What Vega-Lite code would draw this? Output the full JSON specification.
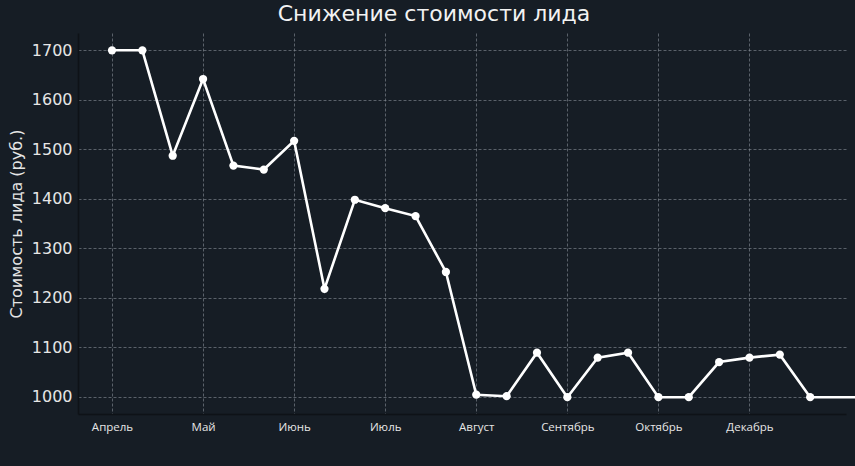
{
  "$schema": "https://vega.github.io/schema/vega-lite/v6.json",
  "description": "Снижение стоимости лида",
  "autosize": {"type": "none"},
  "padding": {"left": 78, "top": 33, "right": 9, "bottom": 52},
  "width": 768,
  "height": 381,
  "background": "#161d25",
  "title": {
    "text": "Снижение стоимости лида",
    "font": "DejaVu Sans",
    "fontSize": 22,
    "fontWeight": "normal",
    "color": "#f2f2f2",
    "anchor": "middle",
    "dx": -28,
    "offset": 7
  },
  "data": {
    "values": [
      {"i": 0, "cost": 1700},
      {"i": 1, "cost": 1700},
      {"i": 2, "cost": 1487},
      {"i": 3, "cost": 1642},
      {"i": 4, "cost": 1467},
      {"i": 5, "cost": 1459},
      {"i": 6, "cost": 1517},
      {"i": 7, "cost": 1218},
      {"i": 8, "cost": 1398},
      {"i": 9, "cost": 1381},
      {"i": 10, "cost": 1365},
      {"i": 11, "cost": 1252},
      {"i": 12, "cost": 1004},
      {"i": 13, "cost": 1001},
      {"i": 14, "cost": 1089},
      {"i": 15, "cost": 999},
      {"i": 16, "cost": 1079},
      {"i": 17, "cost": 1089},
      {"i": 18, "cost": 999},
      {"i": 19, "cost": 999},
      {"i": 20, "cost": 1070},
      {"i": 21, "cost": 1079},
      {"i": 22, "cost": 1085},
      {"i": 23, "cost": 999},
      {"i": 25, "cost": 999}
    ]
  },
  "mark": {
    "type": "line",
    "color": "white",
    "strokeWidth": 2.6,
    "clip": false,
    "point": {"filled": true, "color": "white", "size": 68, "opacity": 1}
  },
  "encoding": {
    "x": {
      "field": "i",
      "type": "quantitative",
      "scale": {"domain": [-1.12, 24.18], "nice": false, "zero": false},
      "axis": {
        "title": null,
        "values": [0, 3, 6, 9, 12, 15, 18, 21],
        "labelExpr": "['Апрель','Май','Июнь','Июль','Август','Сентябрь','Октябрь','Декабрь'][datum.value / 3]",
        "labelFont": "Open Sans",
        "labelFontSize": 11.5,
        "labelColor": "#e6e6e6",
        "labelPadding": 7,
        "ticks": false,
        "domainColor": "#0e1217",
        "domainWidth": 1.5,
        "gridColor": "#8a9098",
        "gridOpacity": 0.75,
        "gridDash": [3, 2],
        "gridWidth": 0.8
      }
    },
    "y": {
      "field": "cost",
      "type": "quantitative",
      "scale": {"domain": [965, 1735], "nice": false, "zero": false},
      "axis": {
        "title": "Стоимость лида (руб.)",
        "titleFont": "DejaVu Sans",
        "titleFontSize": 16,
        "titleFontWeight": "normal",
        "titleColor": "#e6e6e6",
        "titlePadding": 7,
        "values": [1000, 1100, 1200, 1300, 1400, 1500, 1600, 1700],
        "format": "d",
        "labelFont": "DejaVu Sans",
        "labelFontSize": 16,
        "labelColor": "#e6e6e6",
        "labelPadding": 6,
        "ticks": false,
        "domainColor": "#0e1217",
        "domainWidth": 1.5,
        "gridColor": "#8a9098",
        "gridOpacity": 0.75,
        "gridDash": [3, 2],
        "gridWidth": 0.8
      }
    }
  },
  "config": {
    "view": {"stroke": null}
  }
}
